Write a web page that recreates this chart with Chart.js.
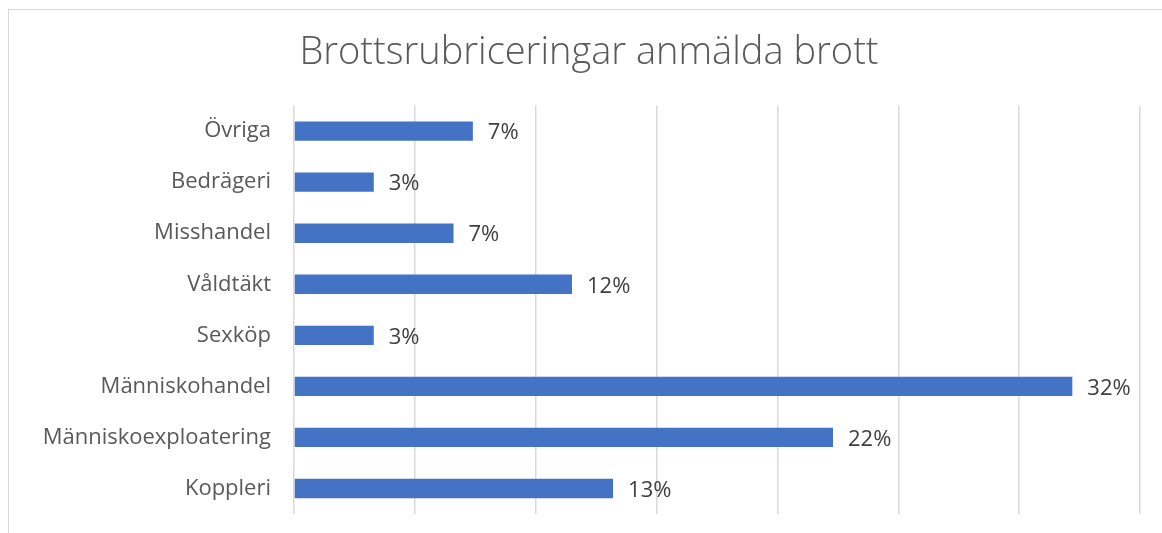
<!DOCTYPE html>
<html>
<head>
<meta charset="utf-8">
<script src="https://cdn.jsdelivr.net/npm/chart.js@4"></script>
<style>
  body { margin: 0; background: #fff; overflow: hidden; }
  #wrap { position: relative; width: 1162px; height: 533px; }
  #frame { position: absolute; left: 8px; top: 9px; width: 1200px; height: 600px; border: 1px solid #d9d9d9; box-sizing: border-box; }
  #chartBox { position: absolute; left: 0; top: 0; width: 1162px; height: 533px; }
</style>
</head>
<body>
<div id="wrap">
  <div id="frame"></div>
  <div id="chartBox"><canvas id="myChart"></canvas></div>
</div>
<script>
// categories, top to bottom
const categories = ["Övriga", "Bedrägeri", "Misshandel", "Våldtäkt", "Sexköp", "Människohandel", "Människoexploatering", "Koppleri"];
// share of reported crimes, percent
const shares = [7.4, 3.3, 6.6, 11.5, 3.3, 32.2, 22.3, 13.2];
// x-axis gridline values (ticks are hidden in the original)
const xTicks = [0, 5, 10, 15, 20, 25, 30, 35];

const fontFamily = "'Open Sans', 'Lato', sans-serif";

// draws the "7%" style labels at the end of each bar
const barLabels = {
  id: "barLabels",
  afterDatasetsDraw(chart) {
    const ctx = chart.ctx;
    const meta = chart.getDatasetMeta(0);
    ctx.save();
    ctx.font = "22px " + fontFamily;
    ctx.fillStyle = "#404040";
    ctx.textAlign = "left";
    ctx.textBaseline = "middle";
    meta.data.forEach((bar, i) => {
      ctx.fillText(Math.round(shares[i]) + "%", bar.x + 15, bar.y + 2);
    });
    ctx.restore();
  },
};

const ctx = document.getElementById("myChart");
new Chart(ctx, {
  type: "bar",
  data: {
    labels: categories,
    datasets: [
      {
        label: "Andel",
        data: shares,
        backgroundColor: "#4472C4",
        borderWidth: 0,
        barPercentage: 0.38,
        categoryPercentage: 1,
      },
    ],
  },
  options: {
    indexAxis: "y",
    responsive: true,
    maintainAspectRatio: false,
    animation: false,
    layout: {
      // left/right padding also centres the title where the original has it
      padding: { left: 38, right: 22, top: 0, bottom: 19 },
    },
    plugins: {
      legend: { display: false },
      tooltip: { enabled: false },
      title: {
        display: true,
        text: "Brottsrubriceringar anmälda brott",
        color: "#595959",
        font: { family: fontFamily, size: 38, weight: "300" },
        padding: { top: 30, bottom: 30 },
      },
    },
    scales: {
      x: {
        min: 0,
        max: 35,
        afterBuildTicks: (scale) => {
          scale.ticks = xTicks.map((v) => ({ value: v }));
        },
        ticks: { display: false },
        grid: { color: "#d9d9d9", lineWidth: 1.5, drawTicks: false },
        border: { display: false },
      },
      y: {
        afterFit: (scale) => {
          scale.width = 256;
          scale.paddingTop = 0;
          scale.paddingBottom = 0;
        },
        ticks: {
          color: "#595959",
          font: { family: fontFamily, size: 22 },
          padding: 23,
        },
        grid: { display: false, drawTicks: false },
        border: { display: false },
      },
    },
  },
  plugins: [barLabels],
});
</script>
</body>
</html>
